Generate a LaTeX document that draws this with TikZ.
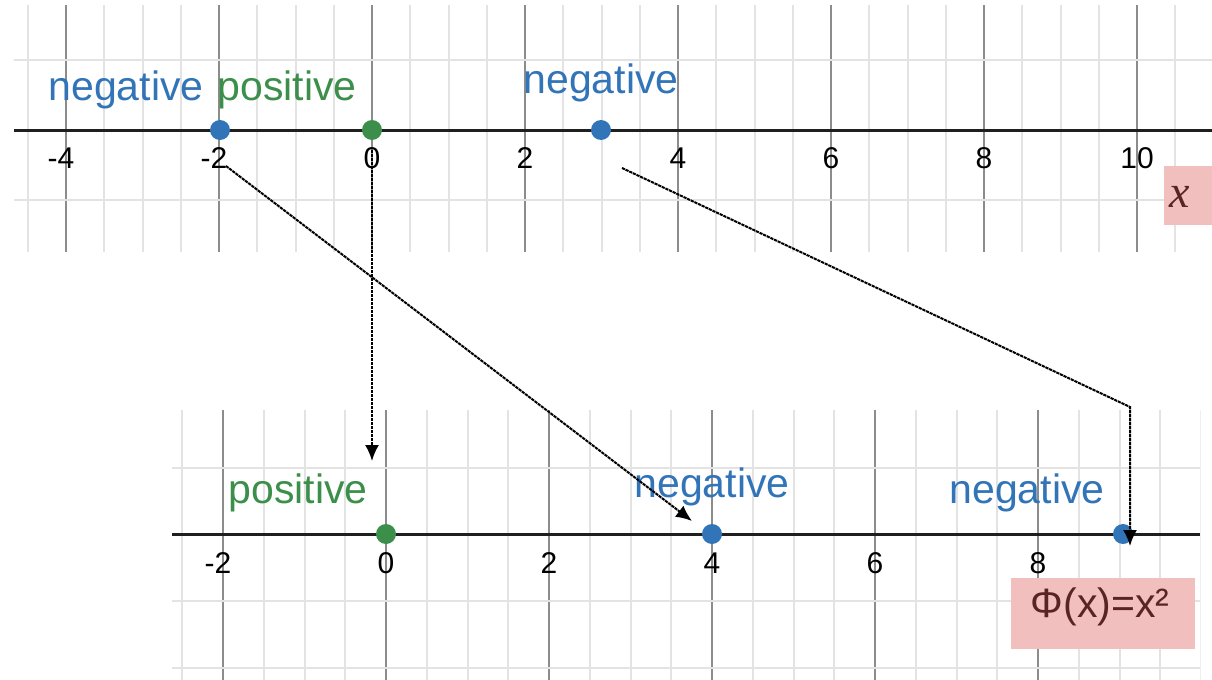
\documentclass[tikz,border=0pt]{standalone}
\usepackage{fontspec}
\setmainfont{Liberation Sans}
\newfontfamily\varfont{Liberation Serif}
\usetikzlibrary{arrows.meta}
\definecolor{dblue}{HTML}{3274B8}
\definecolor{dgreen}{HTML}{3C8F4A}
\definecolor{boxpink}{HTML}{F2BFBF}
\definecolor{boxtext}{HTML}{5A2424}
\tikzset{
  minorline/.style={draw=black!11, line width=1pt},
  majorline/.style={draw=black!45, line width=1pt},
  axisline/.style={draw=black!88, line width=1.5pt},
  dot/.style={circle, fill=#1, inner sep=0pt, minimum size=10pt},
  lbl/.style={text=#1, font=\fontsize{20.5}{24}\selectfont, inner sep=0pt, anchor=base},
  ticklbl/.style={font=\fontsize{15}{17}\selectfont, inner sep=0pt, anchor=base},
  maparrow/.style={dash pattern=on 1.6pt off 0.4pt, line width=1pt, -{Latex[length=8pt,width=7pt]}},
}
\begin{document}
\begin{tikzpicture}[x=0.5pt, y=-0.5pt]
    \useasboundingbox (0,0) rectangle (1212,680);
    \fill[white] (0,0) rectangle (1212,680);

    % top number line (x)
    \begin{scope}
    \clip (14,5) rectangle (1212,252);
    \foreach \k in {-9,...,22} {
        \pgfmathsetmacro{\gx}{372+\k*38.25}
        \pgfmathtruncatemacro{\m}{mod(\k+40,4)}
        \ifnum\m=0 \draw[majorline] (\gx,5) -- (\gx,252);
        \else \draw[minorline] (\gx,5) -- (\gx,252); \fi
    }
    \foreach \gy in {60,200} \draw[minorline] (14,\gy) -- (1212,\gy);
    \draw[axisline] (14,130) -- (1212,130);
    \end{scope}
    \foreach \v/\px/\nm in {-4/61/tm4, -2/214/tm2, 0/372/t0, 2/525/t2, 4/678/t4, 6/831/t6, 8/984/t8, 10/1137/t10}
        \node[ticklbl] (\nm) at (\px,168) {\v};

    \node[dot=dblue]  (tA) at (220,130) {};
    \node[dot=dgreen] (tB) at (372,130) {};
    \node[dot=dblue]  (tC) at (601,130) {};
    \node[lbl=dblue]  (tAl) at (126,100) {negative};
    \node[lbl=dgreen] (tBl) at (287,100) {positive};
    \node[lbl=dblue]  (tCl) at (601,93) {negative};
    \node[fill=boxpink, minimum width=24pt, minimum height=29.5pt, inner sep=0pt] (xbox) at (1188,195.5) {};
    \node[text=boxtext, font=\varfont\itshape\fontsize{23}{26}\selectfont, inner sep=0pt, anchor=base] (xlbl) at (1180,207) {x};

    % bottom number line (Phi(x))
    \begin{scope}
    \clip (172,410) rectangle (1200,680);
    \foreach \k in {-5,...,20} {
        \pgfmathsetmacro{\gx}{386+\k*40.75}
        \pgfmathtruncatemacro{\m}{mod(\k+40,4)}
        \ifnum\m=0 \draw[majorline] (\gx,410) -- (\gx,680);
        \else \draw[minorline] (\gx,410) -- (\gx,680); \fi
    }
    \foreach \gy in {468,601,668} \draw[minorline] (172,\gy) -- (1200,\gy);
    \draw[axisline] (172,534) -- (1200,534);
    \end{scope}
    \foreach \v/\px/\nm in {-2/218/bm2, 0/386/b0, 2/549/b2, 4/712/b4, 6/875/b6, 8/1038/b8}
        \node[ticklbl] (\nm) at (\px,573) {\v};

    \node[dot=dgreen] (bA) at (386,534) {};
    \node[dot=dblue]  (bB) at (712,534) {};
    \node[dot=dblue]  (bC) at (1123,534) {};
    \node[lbl=dgreen] (bAl) at (298,503) {positive};
    \node[lbl=dblue]  (bBl) at (712,497) {negative};
    \node[lbl=dblue]  (bCl) at (1027,503) {negative};
    \node[fill=boxpink, minimum width=92pt, minimum height=35.5pt, inner sep=0pt] (phibox) at (1103,613) {};
    \node[text=boxtext, font=\fontsize{20.5}{24}\selectfont, inner sep=0pt, anchor=base] (philbl) at (1100,617) {Φ(x)=x²};

    % mapping arrows
    \coordinate (s1) at (372,150);
    \coordinate (e1) at (372,461);
    \coordinate (s2) at (226,166);
    \coordinate (e2) at (692,521);
    \coordinate (s3) at (622,168);
    \coordinate (k3) at (1130,407);
    \coordinate (e3) at (1130,546);
    \draw[maparrow] (s1) -- (e1);
    \draw[maparrow] (s2) -- (e2);
    \draw[maparrow] (s3) -- (k3) -- (e3);
\end{tikzpicture}
\end{document}
